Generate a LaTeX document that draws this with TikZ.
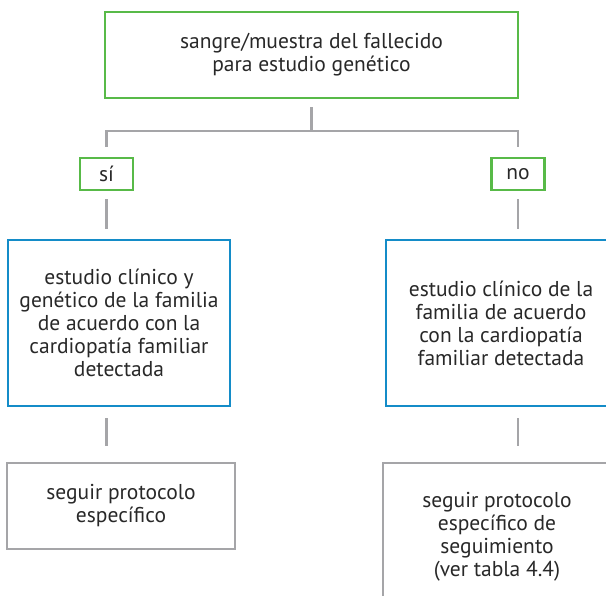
\documentclass[tikz,border=0pt]{standalone}
\usepackage{fontspec}
\setmainfont{PT Sans}
\usetikzlibrary{calc}
\definecolor{cgreen}{RGB}{88,186,72}
\definecolor{cblue}{RGB}{20,140,200}
\definecolor{cgray}{RGB}{165,165,168}
\definecolor{ctext}{RGB}{40,40,40}
\tikzset{
  box/.style={draw, line width=2.6pt, rectangle, align=center, text=ctext, inner sep=0pt,
    font=\fontsize{21.5}{23}\selectfont},
  gbox/.style={box, draw=cgreen},
  bbox/.style={box, draw=cblue},
  ybox/.style={box, draw=cgray},
  conn/.style={draw=cgray, line width=2.4pt},
}
\begin{document}
\begin{tikzpicture}[x=1pt,y=-1pt]
\useasboundingbox (0,0) rectangle (606,596);
\node[gbox, minimum width=413pt, minimum height=86pt] (top) at (311.5,55) {sangre/muestra del fallecido\\para estudio genético};
\node[gbox, minimum width=53pt, minimum height=32pt] (si) at (106.5,174) {sí};
\node[gbox, minimum width=53pt, minimum height=32pt] (no) at (518,174) {no};
\node[bbox, minimum width=222pt, minimum height=166pt] (lb) at (119,323) {estudio clínico y\\genético de la familia\\de acuerdo con la\\cardiopatía familiar\\detectada};
\node[bbox, minimum width=230pt, minimum height=166pt] (rb) at (501,323) {estudio clínico de la\\familia de acuerdo\\con la cardiopatía\\familiar detectada};
\node[ybox, minimum width=228pt, minimum height=86pt] (lg) at (121,506) {seguir protocolo\\específico};
\node[ybox, minimum width=228pt, minimum height=148pt] (rg) at (497,537) {seguir protocolo\\específico de\\seguimiento\\(ver tabla 4.4)};
\coordinate (split) at ($(top.south)+(0,32)$);
\draw[conn, shorten <=8pt] (top.south) -- (split);
\draw[conn, shorten >=10pt] (split) -| (si.north);
\draw[conn, shorten >=10pt] (split) -| (no.north);
\draw[conn, shorten <=8pt, shorten >=10pt] (si.south) -- (si.south |- lb.north);
\draw[conn, shorten <=8pt, shorten >=10pt] (no.south) -- (no.south |- rb.north);
\draw[conn, shorten <=11pt, shorten >=16pt] (si.south |- lb.south) -- (si.south |- lg.north);
\draw[conn, shorten <=11pt, shorten >=16pt] (no.south |- rb.south) -- (no.south |- rg.north);
\end{tikzpicture}
\end{document}
